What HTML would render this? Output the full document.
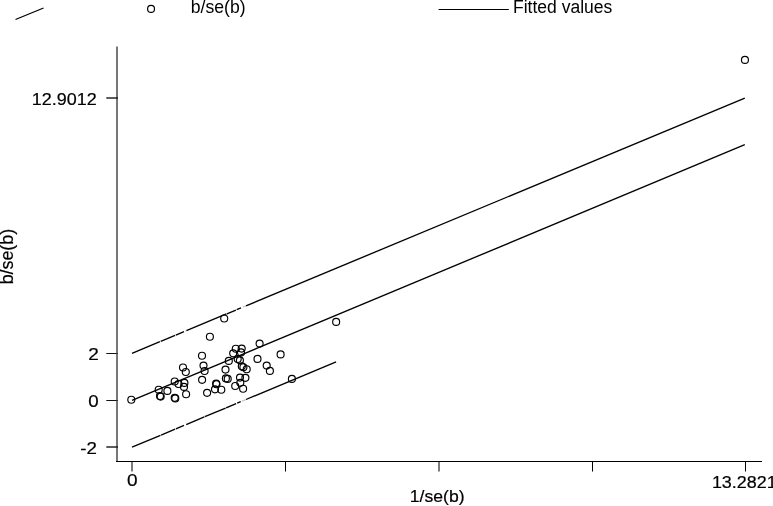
<!DOCTYPE html>
<html><head><meta charset="utf-8"><style>
html,body{margin:0;padding:0;background:#fff;}
body{width:773px;height:506px;overflow:hidden;}
svg{display:block;will-change:transform;}
text{font-family:"Liberation Sans",sans-serif;fill:#000;}
</style></head><body>
<svg width="773" height="506" viewBox="0 0 773 506">
<rect width="773" height="506" fill="#fff"/>
<line x1="15.5" y1="19.5" x2="43.5" y2="8" stroke="#000" stroke-width="1.3"/>
<circle cx="151.05" cy="8.9" r="3.45" fill="none" stroke="#000" stroke-width="1.2"/>
<line x1="438.6" y1="9.5" x2="508.8" y2="9.5" stroke="#000" stroke-width="1.1"/>
<rect x="116" y="46.5" width="2" height="415" fill="#777"/>
<g fill="#5c5c5c">
<rect x="106.3" y="97" width="10" height="2"/>
<rect x="106.3" y="446" width="10" height="2"/>
</g>
<g fill="#111">
<rect x="106.3" y="353" width="10" height="1"/>
<rect x="106.3" y="400" width="10" height="1"/>
</g>
<g fill="#333">
<rect x="116" y="97" width="2" height="2"/>
<rect x="116" y="353" width="2" height="1"/>
<rect x="116" y="400" width="2" height="1"/>
<rect x="116" y="446" width="2" height="2"/>
</g>
<rect x="116" y="461" width="646" height="1" fill="#000"/>
<g fill="#000">
<rect x="285" y="462" width="1" height="9.5"/>
<rect x="592" y="462" width="1" height="9.5"/>
<rect x="745" y="462" width="1" height="9.5"/>
</g>
<g fill="#7c7c7c">
<rect x="131" y="462" width="2" height="9.5"/>
<rect x="438" y="462" width="2" height="9.5"/>
</g>
<text transform="translate(190.8,12.9) scale(0.99,1)" text-anchor="start" font-size="17.8">b/se(b)</text>
<text transform="translate(512.95,12.9) scale(0.985,1)" text-anchor="start" font-size="17.8">Fitted values</text>
<text transform="translate(96.65,104.9) scale(1.058,1)" text-anchor="end" font-size="17" stroke="#000" stroke-width="0.2">12.9012</text>
<text transform="translate(98.75,360.3) scale(1.12,1)" text-anchor="end" font-size="17" stroke="#000" stroke-width="0.2">2</text>
<text transform="translate(98.65,407.3) scale(1.1,1)" text-anchor="end" font-size="17" stroke="#000" stroke-width="0.2">0</text>
<text transform="translate(96.9,454.1) scale(1.1,1)" text-anchor="end" font-size="17" stroke="#000" stroke-width="0.2">-2</text>
<text transform="translate(132.2,486.4) scale(1.12,1)" text-anchor="middle" font-size="17" stroke="#000" stroke-width="0.2">0</text>
<text transform="translate(744.3,488.0) scale(1.055,1)" text-anchor="middle" font-size="17" stroke="#000" stroke-width="0.2">13.2821</text>
<text transform="translate(437.2,502.4) scale(1.035,1)" text-anchor="middle" font-size="17" stroke="#000" stroke-width="0.2">1/se(b)</text>
<text transform="translate(12.9,256.6) rotate(-90) scale(0.99,1)" text-anchor="middle" font-size="18" stroke="#000" stroke-width="0.2">b/se(b)</text>
<g stroke="#000" stroke-width="1.35" fill="none" stroke-linecap="butt">
<line x1="132.0" y1="353.3" x2="159.9" y2="341.68"/>
<line x1="160.7" y1="341.35" x2="175.1" y2="335.35"/>
<line x1="175.8" y1="335.06" x2="184.0" y2="331.64"/>
<line x1="186.4" y1="330.65" x2="226.4" y2="313.99"/>
<line x1="226.9" y1="313.78" x2="235.9" y2="310.03"/>
<line x1="236.7" y1="309.7" x2="241.0" y2="307.91"/>
<line x1="246.0" y1="305.82" x2="744.8" y2="98.1"/>
<line x1="185.0" y1="331.23" x2="185.6" y2="330.98" stroke="#c8c8c8"/>
<line x1="243.0" y1="307.07" x2="246.0" y2="305.82" stroke="#c8c8c8"/>
<line x1="132.0" y1="447.2" x2="160.5" y2="435.27"/>
<line x1="161.1" y1="435.02" x2="175.1" y2="429.17"/>
<line x1="175.9" y1="428.83" x2="184.0" y2="425.44"/>
<line x1="186.2" y1="424.52" x2="204.3" y2="416.95"/>
<line x1="204.8" y1="416.74" x2="225.6" y2="408.04"/>
<line x1="226.1" y1="407.83" x2="236.1" y2="403.64"/>
<line x1="237.2" y1="403.18" x2="240.7" y2="401.72"/>
<line x1="246.0" y1="399.5" x2="336.1" y2="361.8"/>
<line x1="242.0" y1="401.17" x2="245.8" y2="399.58" stroke="#c8c8c8"/>
<line x1="132.0" y1="400.4" x2="744.8" y2="144.7"/>
</g>
<g fill="none" stroke="#000" stroke-width="1.15">
<circle cx="131.3" cy="399.7" r="3.5"/>
<circle cx="158.7" cy="389.7" r="3.5"/>
<circle cx="160.0" cy="396.0" r="3.5"/>
<circle cx="160.7" cy="396.6" r="3.5"/>
<circle cx="167.4" cy="390.9" r="3.5"/>
<circle cx="174.7" cy="381.5" r="3.5"/>
<circle cx="178.5" cy="384.0" r="3.5"/>
<circle cx="174.7" cy="397.8" r="3.5"/>
<circle cx="175.3" cy="398.4" r="3.5"/>
<circle cx="183.0" cy="367.5" r="3.5"/>
<circle cx="185.8" cy="372.0" r="3.5"/>
<circle cx="184.4" cy="382.9" r="3.5"/>
<circle cx="184.0" cy="386.9" r="3.5"/>
<circle cx="186.1" cy="394.2" r="3.5"/>
<circle cx="202.0" cy="355.7" r="3.5"/>
<circle cx="203.5" cy="365.6" r="3.5"/>
<circle cx="204.6" cy="371.0" r="3.5"/>
<circle cx="202.1" cy="379.8" r="3.5"/>
<circle cx="207.1" cy="392.8" r="3.5"/>
<circle cx="209.9" cy="336.7" r="3.5"/>
<circle cx="224.2" cy="318.5" r="3.5"/>
<circle cx="216.1" cy="383.6" r="3.5"/>
<circle cx="216.5" cy="384.2" r="3.5"/>
<circle cx="215.0" cy="389.3" r="3.5"/>
<circle cx="221.3" cy="389.7" r="3.5"/>
<circle cx="225.5" cy="369.6" r="3.5"/>
<circle cx="225.9" cy="378.4" r="3.5"/>
<circle cx="227.7" cy="378.9" r="3.5"/>
<circle cx="235.2" cy="386.0" r="3.5"/>
<circle cx="240.0" cy="377.6" r="3.5"/>
<circle cx="245.4" cy="377.8" r="3.5"/>
<circle cx="240.3" cy="382.8" r="3.5"/>
<circle cx="243.1" cy="388.7" r="3.5"/>
<circle cx="235.8" cy="348.7" r="3.5"/>
<circle cx="241.7" cy="348.6" r="3.5"/>
<circle cx="233.2" cy="353.3" r="3.5"/>
<circle cx="241.0" cy="352.4" r="3.5"/>
<circle cx="228.8" cy="360.9" r="3.5"/>
<circle cx="237.7" cy="359.0" r="3.5"/>
<circle cx="239.9" cy="360.3" r="3.5"/>
<circle cx="241.8" cy="366.3" r="3.5"/>
<circle cx="243.4" cy="367.2" r="3.5"/>
<circle cx="246.7" cy="369.2" r="3.5"/>
<circle cx="259.6" cy="343.6" r="3.5"/>
<circle cx="257.5" cy="358.9" r="3.5"/>
<circle cx="266.7" cy="365.6" r="3.5"/>
<circle cx="269.9" cy="370.9" r="3.5"/>
<circle cx="280.6" cy="354.4" r="3.5"/>
<circle cx="291.9" cy="378.9" r="3.5"/>
<circle cx="336.15" cy="321.9" r="3.5"/>
<circle cx="744.95" cy="59.9" r="3.5"/>
</g>
</svg>
</body></html>
